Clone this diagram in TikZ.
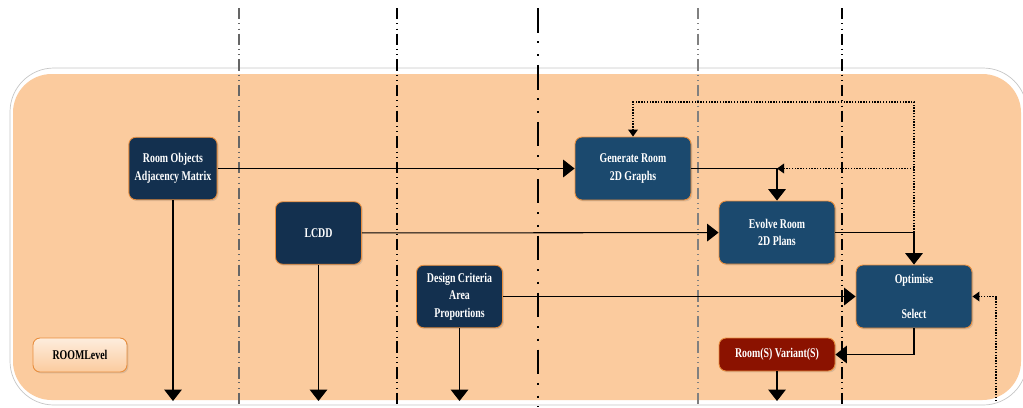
\documentclass[tikz,border=0pt]{standalone}
\usepackage{fontspec}
\newfontfamily\boxfont[FakeStretch=0.74]{Liberation Serif}
\usetikzlibrary{arrows.meta,shadows}
\definecolor{panel}{RGB}{251,203,158}
\definecolor{navy}{RGB}{19,48,79}
\definecolor{steel}{RGB}{27,73,110}
\definecolor{brick}{RGB}{139,18,0}
\definecolor{rim}{RGB}{232,142,62}

\begin{document}
\begin{tikzpicture}[x=0.02cm,y=-0.02cm,>={Triangle[length=6.5pt,width=10pt]},
  box/.style={draw=rim,line width=0.5pt,rounded corners=4pt,text=white,align=center,
    font=\boxfont\bfseries\fontsize{7.6}{10}\selectfont,
    drop shadow={opacity=0.25,shadow xshift=0.8pt,shadow yshift=-0.8pt}},
  input box/.style={box,fill=navy,minimum width=1.72cm,minimum height=1.25cm},
  step box/.style={box,fill=steel,minimum width=2.32cm,minimum height=1.26cm},
  out box/.style={box,fill=brick,minimum width=2.32cm,minimum height=0.66cm},
  level box/.style={box,text=black,top color=white!65!panel,bottom color=panel,
    minimum width=1.88cm,minimum height=0.68cm},
  sep/.style={line width=0.6pt,dash pattern=on 6.5pt off 2.2pt on 0.6pt off 2.5pt on 0.6pt off 2.2pt},
  flow/.style={line width=0.6pt},
  back/.style={line width=0.8pt,dash pattern=on 0.8pt off 0.8pt,
    -{Triangle[length=4pt,width=5.5pt]}}]
  \useasboundingbox (0,0) rectangle (1023,407);
  \draw[gray!45,fill=white,rounded corners=25pt] (10,68) rectangle (1027,405);
  \fill[panel,rounded corners=22pt] (13,74) rectangle (1021,400);
  \foreach \x/\c in {239/gray!80!black,397/black,698/gray,842/black}
    \draw[sep,\c] (\x,8) -- (\x,407);
  \draw[line width=1.2pt,dash pattern=on 14pt off 5pt on 1.2pt off 6pt on 1.2pt off 5pt]
    (538,8) -- (538,407);

  \node[input box] (rooms)    at (173,168.5) {Room Objects\\Adjacency Matrix};
  \node[input box] (lcdd)     at (318.5,233) {LCDD};
  \node[input box] (criteria) at (459.5,296.5) {Design Criteria\\Area\\Proportions};
  \node[step box]  (graphs)   at (633,168.5) {Generate Room\\2D Graphs};
  \node[step box]  (plans)    at (777,232.5) {Evolve Room\\2D Plans};
  \node[step box]  (optimise) at (914,296.5) {Optimise\\[10pt]Select};
  \node[out box]   (variants) at (777,354.5) {Room(S) Variant(S)};
  \node[level box] (level)    at (80,355) {ROOMLevel};

  \coordinate (o1) at (173,401);
  \coordinate (o2) at (318.5,401);
  \coordinate (o3) at (459.5,401);
  \coordinate (o4) at (777,401);
  \coordinate (top) at (914,102);
  \coordinate (side) at (996,401);

  \draw[flow,->] (rooms) -- (graphs);
  \draw[flow,->] (lcdd) -- (plans);
  \draw[flow,->] (criteria) -- (optimise);
  \draw[flow,->] (graphs) -| (plans);
  \draw[flow,->] (plans) -| (optimise);
  \draw[flow,->] (optimise) |- (variants);
  \draw[flow,->] (rooms) -- (o1);
  \draw[flow,->] (lcdd) -- (o2);
  \draw[flow,->] (criteria) -- (o3);
  \draw[flow,->] (variants) -- (o4);
  \draw[back] (optimise.north |- plans.east) -- (top) -| (graphs.north);
  \draw[back] (optimise.north |- graphs.east) -- (plans.north |- graphs.east);
  \draw[back] (side) |- (optimise);
\end{tikzpicture}
\end{document}
